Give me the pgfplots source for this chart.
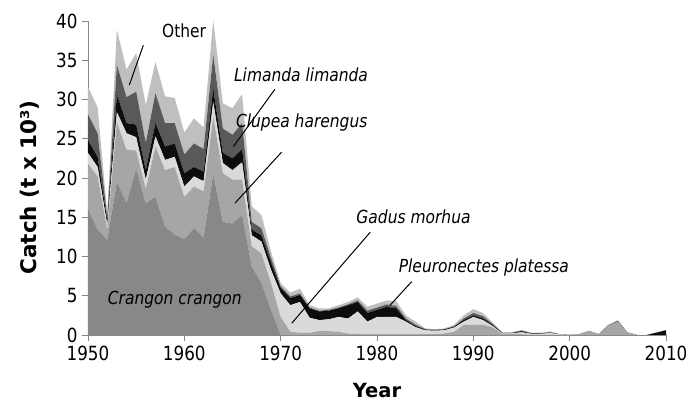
\documentclass[border=0pt]{standalone}
\usepackage{pgfplots}
\pgfplotsset{compat=1.18}
\usepackage{pgfplotstable}
\usepackage{fontspec}
\setmainfont{DejaVu Sans}[FakeStretch=0.86]
\newfontfamily\labfont{DejaVu Sans}
\definecolor{cCran}{HTML}{888888}
\definecolor{cClup}{HTML}{A6A6A6}
\definecolor{cGadu}{HTML}{DADADA}
\definecolor{cPleu}{HTML}{0D0D0D}
\definecolor{cLima}{HTML}{595959}
\definecolor{cOthe}{HTML}{BFBFBF}
\definecolor{axgray}{HTML}{868686}
\pgfplotstableread{
year cran clup gadu pleu lima othe
1950 16.0 5.8 1.4 1.6 3.3 3.5
1951 13.4 6.8 1.2 1.3 3.0 3.3
1952 12.1 1.3 0.6 0.6 0.4 0.5
1953 19.5 7.6 1.3 2.2 3.8 4.5
1954 16.8 6.8 2.1 1.3 3.3 3.5
1955 21.2 2.3 1.7 1.6 4.2 4.9
1956 16.8 1.8 1.2 1.2 3.5 4.8
1957 17.6 6.4 1.3 1.7 3.8 4.0
1958 13.8 7.2 1.3 1.7 3.0 3.4
1959 12.8 8.6 1.3 1.7 2.6 3.2
1960 12.2 5.4 1.3 1.7 2.4 2.8
1961 13.6 5.3 1.3 1.2 3.0 3.2
1962 12.4 5.9 1.3 1.2 2.9 2.7
1963 20.6 7.2 1.9 1.7 4.3 4.4
1964 14.4 6.2 1.3 1.3 3.1 3.2
1965 14.2 5.6 1.2 1.5 3.0 3.4
1966 15.3 4.5 2.2 1.7 3.3 3.7
1967 8.7 2.6 1.4 0.7 1.0 2.0
1968 6.6 3.8 1.5 0.8 0.9 1.7
1969 3.2 3.4 1.7 0.9 0.6 0.8
1970 0.0 2.3 3.0 0.7 0.2 0.4
1971 0 0.4 3.4 0.9 0.2 0.5
1972 0 0.3 3.9 0.9 0.2 0.6
1973 0 0.3 1.9 1.2 0.1 0.3
1974 0 0.5 1.4 1.1 0.1 0.3
1975 0 0.5 1.5 1.1 0.1 0.2
1976 0 0.4 1.9 1.1 0.1 0.3
1977 0 0.2 1.9 1.7 0.1 0.3
1978 0 0.1 2.9 1.2 0.2 0.4
1979 0 0.1 1.6 1.1 0.3 0.5
1980 0 0.1 2.2 0.9 0.3 0.5
1981 0 0.1 2.2 1.3 0.3 0.5
1982 0 0.1 2.2 1.1 0.3 0.6
1983 0 0.1 1.6 0.2 0.2 0.4
1984 0 0.1 0.9 0.15 0.15 0.4
1985 0 0.1 0.5 0.1 0.05 0.1
1986 0 0.1 0.45 0.09 0.02 0.04
1987 0 0.2 0.4 0.1 0.05 0.1
1988 0 0.4 0.55 0.11 0.04 0.2
1989 0 1.3 0.4 0.2 0.2 0.4
1990 0 1.3 1.0 0.2 0.3 0.5
1991 0 1.3 0.6 0.2 0.3 0.4
1992 0 1.0 0.15 0.15 0.1 0.2
1993 0 0.1 0.1 0.05 0.05 0.05
1994 0 0.1 0.1 0.05 0.05 0.05
1995 0 0.1 0.25 0.15 0.05 0.1
1996 0 0.05 0.1 0.05 0.05 0.05
1997 0 0.05 0.1 0.05 0.05 0.05
1998 0 0.05 0.2 0.05 0.05 0.1
1999 0 0 0.05 0.02 0.01 0.02
2000 0 0 0 0 0 0
2001 0 0.1 0 0 0 0
2002 0 0.5 0 0 0 0.05
2003 0 0.1 0 0 0 0
2004 0 1.2 0 0 0.05 0.05
2005 0 1.7 0 0.05 0.05 0.1
2006 0 0.3 0 0 0.02 0.03
2007 0 0 0 0 0 0
2008 0 0 0 0 0 0
2009 0 0 0 0.3 0 0
2010 0 0 0 0.6 0 0.05
}\catch
\begin{document}
\begin{tikzpicture}
\path[use as bounding box] (-88pt,-70pt) rectangle (612pt,335pt);
\begin{axis}[
  at={(0,0)}, anchor=south west,
  width=578pt, height=314pt, scale only axis,
  xmin=1950, xmax=2010, ymin=0, ymax=40,
  axis lines*=left,
  axis line style={axgray, line width=0.9pt},
  xtick={1950,1960,...,2010},
  ytick={0,5,...,40},
  tick align=outside,
  major tick length=6pt,
  tick style={axgray, line width=0.9pt},
  x tick label style={/pgf/number format/1000 sep={}},
  /pgf/number format/assume math mode=true,
  tick label style={font=\fontsize{19.5}{22}\selectfont, black},
  xticklabel style={yshift=-1pt},
  yticklabel style={xshift=-1pt},
  xlabel={\labfont\bfseries Year},
  ylabel={\labfont\bfseries\fontsize{21.5}{24}\selectfont Catch (t x 10³)},
  label style={font=\fontsize{19.5}{22}\selectfont},
  xlabel style={at={(axis description cs:0.5,-0.198)}, anchor=base},
  ylabel style={at={(axis description cs:-0.1003,0.47)}, anchor=center},
  stack plots=y,
  clip=false,
]
\addplot[fill=cCran, draw=none] table[x=year,y=cran] {\catch} \closedcycle;
\addplot[fill=cClup, draw=none] table[x=year,y=clup] {\catch} \closedcycle;
\addplot[fill=cGadu, draw=none] table[x=year,y=gadu] {\catch} \closedcycle;
\addplot[fill=cPleu, draw=none] table[x=year,y=pleu] {\catch} \closedcycle;
\addplot[fill=cLima, draw=none] table[x=year,y=lima] {\catch} \closedcycle;
\addplot[fill=cOthe, draw=none] table[x=year,y=othe] {\catch} \closedcycle;
\end{axis}
\begin{axis}[
  at={(0,0)}, anchor=south west,
  width=578pt, height=314pt, scale only axis,
  xmin=1950, xmax=2010, ymin=0, ymax=40,
  axis lines=none, clip=false,
]
\draw[black, line width=1pt] (axis cs:1955.74,36.9) -- (axis cs:1954.29,31.85);
\draw[black, line width=1pt] (axis cs:1969.4,31.3) -- (axis cs:1965.09,24.0);
\draw[black, line width=1pt] (axis cs:1970.1,23.3) -- (axis cs:1965.26,16.8);
\draw[black, line width=1pt] (axis cs:1979.3,13.1) -- (axis cs:1971.15,1.5);
\draw[black, line width=1pt] (axis cs:1983.6,6.8) -- (axis cs:1981.36,3.8);
\node[font=\fontsize{18}{20}\selectfont] at (axis cs:1959.97,38.7) {Other};
\node[font=\fontsize{18}{20}\selectfont\itshape, anchor=west] at (axis cs:1964.8,33.2) {Limanda limanda};
\node[font=\fontsize{18}{20}\selectfont\itshape, anchor=west] at (axis cs:1965.0,27.1) {Clupea harengus};
\node[font=\fontsize{18}{20}\selectfont\itshape, anchor=west] at (axis cs:1977.5,15.0) {Gadus morhua};
\node[font=\fontsize{18}{20}\selectfont\itshape, anchor=west] at (axis cs:1981.9,8.6) {Pleuronectes platessa};
\node[font=\fontsize{18}{20}\selectfont\itshape, anchor=west] at (axis cs:1951.7,4.5) {Crangon crangon};
\end{axis}
\end{tikzpicture}
\end{document}
